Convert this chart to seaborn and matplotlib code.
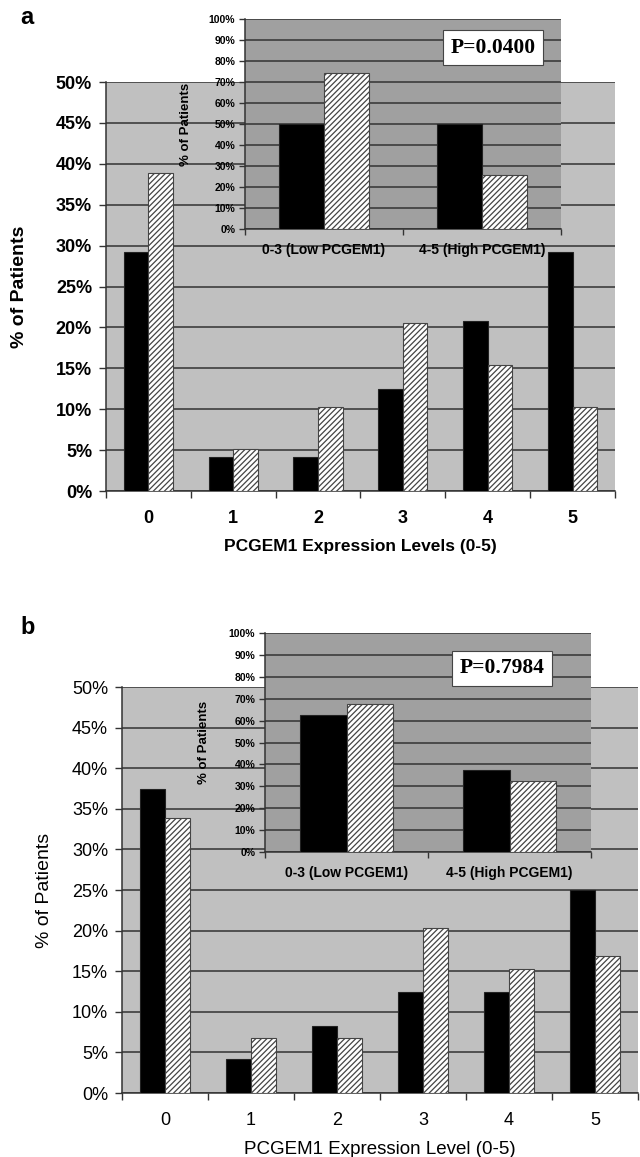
import numpy as np
import pandas as pd
import seaborn as sns
import matplotlib.pyplot as plt

# -----------------------------------------------------------
# Valeurs (% de patients)
# -----------------------------------------------------------
levels = ['0', '1', '2', '3', '4', '5']
groups = ['Groupe 1', 'Groupe 2']
inset_cats = ['0-3 (Low PCGEM1)', '4-5 (High PCGEM1)']

a_black = [29.2, 4.2, 4.2, 12.5, 20.8, 29.2]
a_hatch = [38.9, 5.1, 10.3, 20.5, 15.4, 10.3]
a_inset_black = [50.0, 50.0]
a_inset_hatch = [74.4, 25.6]
a_pvalue = 'P=0.0400'

b_black = [37.5, 4.2, 8.3, 12.5, 12.5, 25.0]
b_hatch = [33.9, 6.8, 6.8, 20.3, 15.3, 16.9]
b_inset_black = [62.5, 37.5]
b_inset_hatch = [67.8, 32.2]
b_pvalue = 'P=0.7984'

sns.set_theme(style='white')
plt.rcParams['font.family'] = ['Liberation Sans', 'DejaVu Sans']
plt.rcParams['hatch.linewidth'] = 0.9
plt.rcParams['text.color'] = 'black'
plt.rcParams['axes.labelcolor'] = 'black'
plt.rcParams['xtick.labelcolor'] = 'black'
plt.rcParams['ytick.labelcolor'] = 'black'

GRID = '#333333'


def long_df(cats, black, hatch):
    return pd.DataFrame({
        'cat': cats * 2,
        'group': [groups[0]] * len(cats) + [groups[1]] * len(cats),
        'pct': list(black) + list(hatch),
    })


def draw_bars(ax, df, order, width):
    sns.barplot(data=df, x='cat', y='pct', hue='group', order=order,
                hue_order=groups, palette=['black', 'white'], width=width,
                gap=0, edgecolor='#222222', linewidth=0.8, legend=False,
                errorbar=None, ax=ax, zorder=3)
    for bar in ax.containers[1]:
        bar.set_hatch('//////')
        bar.set_edgecolor('#444444')


def style_axes(ax, n, ymax, step, bg, tick_fs, weight, tick_len):
    ax.set_facecolor(bg)
    ax.set_axisbelow(True)
    ax.set_xlim(-0.5, n - 0.5)
    ax.set_ylim(0, ymax)
    yt = np.arange(0, ymax + 0.1, step)
    ax.set_yticks(yt)
    ax.set_yticklabels([f'{int(v)}%' for v in yt], fontsize=tick_fs, fontweight=weight)
    ax.yaxis.grid(True, color=GRID, linewidth=1.1)
    ax.xaxis.grid(False)
    ax.set_xticks(np.arange(-0.5, n), minor=True)
    ax.tick_params(axis='x', which='minor', length=tick_len, width=1, color=GRID, direction='out', bottom=True)
    ax.tick_params(axis='y', length=tick_len, width=1, color=GRID, direction='out', left=True)
    for s in ['top', 'right']:
        ax.spines[s].set_visible(False)
    for s in ['left', 'bottom']:
        ax.spines[s].set_color(GRID)
        ax.spines[s].set_linewidth(1.1)


fig = plt.figure(figsize=(6.4, 11.57), dpi=100)

panels = [
    dict(letter='a', ly=18, main=[0.1656, 0.5756, 0.7953, 0.3535], inset=[0.3828, 0.8021, 0.4938, 0.1815],
         black=a_black, hatch=a_hatch, ib=a_inset_black, ih=a_inset_hatch, p=a_pvalue, pxy=(0.786, 0.864),
         xlabel='PCGEM1 Expression Levels (0-5)', weight='bold', ylab_x=-0.153, iylab_x=-0.168,
         xfs=12.5),
    dict(letter='b', ly=627, main=[0.1906, 0.0553, 0.8063, 0.3509], inset=[0.4141, 0.2636, 0.5094, 0.1893],
         black=b_black, hatch=b_hatch, ib=b_inset_black, ih=b_inset_hatch, p=b_pvalue, pxy=(0.727, 0.839),
         xlabel='PCGEM1 Expression Level (0-5)', weight='normal', ylab_x=-0.134, iylab_x=-0.169,
         xfs=13.5),
]

for pan in panels:
    # graphique principal
    ax = fig.add_axes(pan['main'])
    draw_bars(ax, long_df(levels, pan['black'], pan['hatch']), levels, 0.58)
    style_axes(ax, 6, 50, 5, '#c0c0c0', 13, pan['weight'], 5)
    ax.set_xticks(range(6))
    ax.set_xticklabels(levels, fontsize=13, fontweight=pan['weight'])
    ax.tick_params(axis='x', which='major', length=0, pad=14)
    ax.tick_params(axis='y', pad=5)
    ax.set_xlabel(pan['xlabel'], fontsize=pan['xfs'], fontweight=pan['weight'], labelpad=8)
    ax.set_ylabel('% of Patients', fontsize=14, fontweight=pan['weight'])
    ax.yaxis.set_label_coords(pan['ylab_x'], 0.5)

    # encart
    ins = fig.add_axes(pan['inset'])
    draw_bars(ins, long_df(inset_cats, pan['ib'], pan['ih']), inset_cats, 0.57)
    style_axes(ins, 2, 100, 10, '#a0a0a0', 7.5, 'bold', 4)
    ins.set_xticks([0, 1])
    ins.set_xticklabels(inset_cats, fontsize=10, fontweight='bold')
    ins.tick_params(axis='x', which='major', length=0, pad=10)
    ins.tick_params(axis='y', pad=3)
    ins.set_xlabel('')
    ins.set_ylabel('% of Patients', fontsize=9.5, fontweight='bold')
    ins.yaxis.set_label_coords(pan['iylab_x'], 0.5)
    ins.text(pan['pxy'][0], pan['pxy'][1], pan['p'], transform=ins.transAxes,
             ha='center', va='center', fontsize=15.5, fontweight='bold',
             family=['Liberation Serif', 'DejaVu Serif'], zorder=5,
             bbox=dict(boxstyle='square,pad=0.35', facecolor='white', edgecolor='#444444', linewidth=0.8))

    fig.text(20 / 640, 1 - pan['ly'] / 1157, pan['letter'], fontsize=17, fontweight='bold',
             ha='left', va='center')

fig.savefig('out.png', dpi=100)
